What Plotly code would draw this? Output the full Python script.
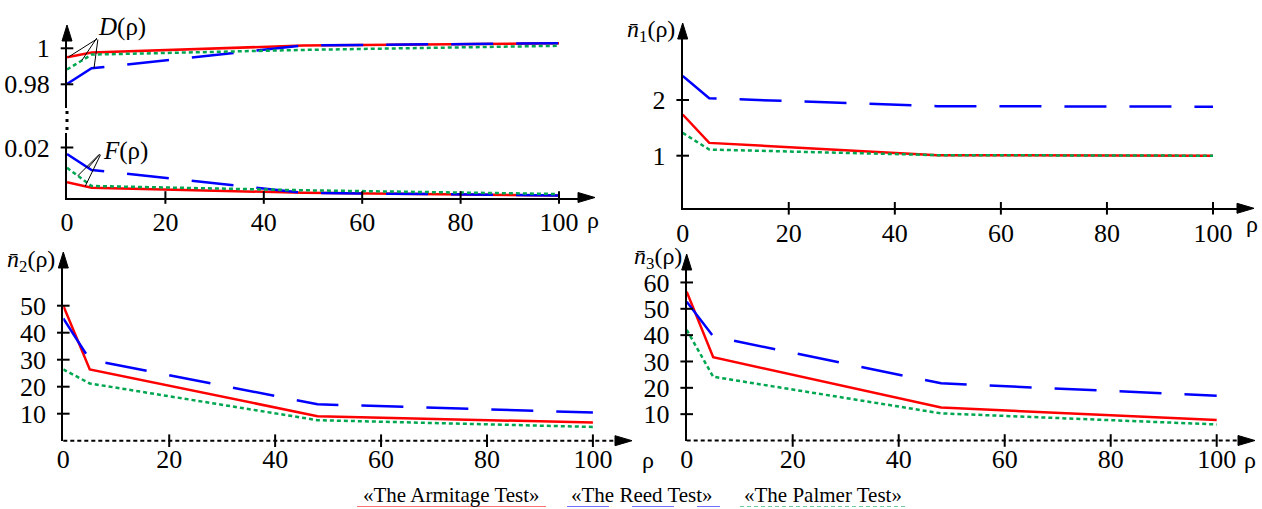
import numpy as np
import plotly.graph_objects as go

# ---------------- data ----------------
rho = [0, 5, 48, 100]

D_armitage = [0.9950, 0.9977, 1.0015, 1.0028]
D_reed = [0.9802, 0.9889, 1.0016, 1.0028]
D_palmer = [0.9882, 0.9965, 0.9991, 1.0014]

F_armitage = [0.0061, 0.0039, 0.0019, 0.0008]
F_reed = [0.0174, 0.0110, 0.0019, 0.0008]
F_palmer = [0.0119, 0.0046, 0.0029, 0.0014]

n1_armitage = [1.74, 1.23, 1.01, 1.00]
n1_reed = [2.43, 2.03, 1.89, 1.88]
n1_palmer = [1.41, 1.11, 1.01, 1.00]

n2_armitage = [50.0, 26.4, 9.1, 6.7]
n2_reed = [45.3, 30.0, 13.5, 10.4]
n2_palmer = [26.4, 21.2, 7.6, 5.1]

n3_armitage = [56.5, 31.6, 12.5, 7.8]
n3_reed = [52.7, 39.5, 21.7, 17.0]
n3_palmer = [42.0, 24.2, 10.3, 6.1]

x_ticks = [0, 20, 40, 60, 80, 100]
x_tick_text = ["0", "20", "40", "60", "80", "100"]
D_ticks = [0.98, 1.0]
D_tick_text = ["0.98", "1"]
F_ticks = [0.02]
F_tick_text = ["0.02"]
n1_ticks = [1, 2]
n2_ticks = [10, 20, 30, 40, 50]
n3_ticks = [10, 20, 30, 40, 50, 60]

series_names = ["«The Armitage Test»", "«The Reed Test»", "«The Palmer Test»"]

# ---------------- styling ----------------
W, H = 1262, 509
FONT = "Liberation Serif, Times New Roman, serif"
RED, BLUE, GREEN = "#ff0000", "#0000ff", "#00a650"
STYLES = [
    dict(color=RED, width=2.5),
    dict(color=BLUE, width=2.5, dash="42px,23px"),
    dict(color=GREEN, width=2.5, dash="4px,3px"),
]
TICKFONT = dict(family=FONT, size=26, color="black")


def fx(px):
    return px / W


def fy(py):
    return 1 - py / H


fig = go.Figure()


def add_series(xa, ya, arrays):
    for vals, st in zip(arrays, STYLES):
        fig.add_trace(go.Scatter(x=rho, y=vals, mode="lines", line=st,
                                 xaxis=xa, yaxis=ya, showlegend=False,
                                 hoverinfo="skip"))


def add_ticks(xa, ya, xt, yt, xbase, ybase):
    xt = [v for v in xt if v != 0]
    if xt:
        fig.add_trace(go.Scatter(x=xt, y=[ybase] * len(xt), mode="markers",
                                 marker=dict(symbol="line-ns", size=9,
                                             line=dict(width=2, color="black")),
                                 xaxis=xa, yaxis=ya, cliponaxis=False,
                                 showlegend=False, hoverinfo="skip"))
    if yt:
        fig.add_trace(go.Scatter(x=[xbase] * len(yt), y=yt, mode="markers",
                                 marker=dict(symbol="line-ew", size=9,
                                             line=dict(width=2, color="black")),
                                 xaxis=xa, yaxis=ya, cliponaxis=False,
                                 showlegend=False, hoverinfo="skip"))


# panel geometry (pixels) -> ranges
p1_x0, p1_x1, p1_sx = 67, 578, 4.92
p1_xr = [0, (p1_x1 - p1_x0) / p1_sx]
D_top, D_bot, D_one, D_s = 41, 108, 48.3, 1800.0
D_range = [1 - (D_bot - D_one) / D_s, 1 + (D_one - D_top) / D_s]
F_top, F_bot, F_s = 133, 197.5, 2500.0
F_range = [0, (F_bot - F_top) / F_s]
n1_x0, n1_x1, n1_sx = 682.7, 1237, 5.303
n1_xr = [0, (n1_x1 - n1_x0) / n1_sx]
n1_top, n1_bot, n1_one, n1_s = 39, 208.3, 155.7, 55.7
n1_range = [1 - (n1_bot - n1_one) / n1_s, 1 + (n1_one - n1_top) / n1_s]
n2_x0, n2_x1, n2_sx = 63.3, 615, 5.296
n2_xr = [0, (n2_x1 - n2_x0) / n2_sx]
n2_top, n2_bot, n2_s = 268, 440.7, 2.7
n2_range = [0, (n2_bot - n2_top) / n2_s]
n3_x0, n3_x1, n3_sx = 686.7, 1238, 5.3
n3_xr = [0, (n3_x1 - n3_x0) / n3_sx]
n3_top, n3_bot, n3_s = 270, 440.5, 2.634
n3_range = [0, (n3_bot - n3_top) / n3_s]

add_series("x", "y", [F_armitage, F_reed, F_palmer])
add_series("x2", "y2", [D_armitage, D_reed, D_palmer])
add_series("x3", "y3", [n1_armitage, n1_reed, n1_palmer])
add_series("x4", "y4", [n2_armitage, n2_reed, n2_palmer])
add_series("x5", "y5", [n3_armitage, n3_reed, n3_palmer])

add_ticks("x", "y", x_ticks, F_ticks, 0, F_range[0])
add_ticks("x2", "y2", [], D_ticks, 0, D_range[0])
add_ticks("x3", "y3", x_ticks, n1_ticks, 0, n1_range[0])
add_ticks("x4", "y4", x_ticks, n2_ticks, 0, n2_range[0])
add_ticks("x5", "y5", x_ticks, n3_ticks, 0, n3_range[0])


def xcfg(x0, x1, rng, anchor, showline=True, labels=True):
    return dict(domain=[fx(x0), fx(x1)], range=rng, anchor=anchor,
                showline=showline, linecolor="black", linewidth=2,
                showgrid=False, zeroline=False, ticks="", automargin=False,
                tickmode="array", tickvals=x_ticks if labels else [],
                ticktext=x_tick_text if labels else [],
                tickfont=TICKFONT, ticklabelstandoff=0, fixedrange=True)


def ycfg(top, bot, rng, anchor, tv, tt):
    return dict(domain=[fy(bot), fy(top)], range=rng, anchor=anchor,
                showline=True, linecolor="black", linewidth=2,
                showgrid=False, zeroline=False, ticks="", automargin=False,
                tickmode="array", tickvals=tv, ticktext=tt,
                tickfont=TICKFONT, ticklabelstandoff=10, fixedrange=True)


layout = dict(
    template="none",
    width=W, height=H, margin=dict(l=0, r=0, t=0, b=0, pad=0),
    font=dict(family=FONT, color="black"),
    paper_bgcolor="white", plot_bgcolor="rgba(0,0,0,0)", showlegend=False,
    xaxis=xcfg(p1_x0, p1_x1, p1_xr, "y"),
    yaxis=ycfg(F_top, F_bot, F_range, "x", F_ticks, F_tick_text),
    xaxis2=dict(xcfg(p1_x0, p1_x1, p1_xr, "y2", False, False), visible=False),
    yaxis2=ycfg(D_top, D_bot, D_range, "x2", D_ticks, D_tick_text),
    xaxis3=xcfg(n1_x0, n1_x1, n1_xr, "y3"),
    yaxis3=ycfg(n1_top, n1_bot, n1_range, "x3", n1_ticks, [str(v) for v in n1_ticks]),
    xaxis4=xcfg(n2_x0, n2_x1, n2_xr, "y4", showline=False),
    yaxis4=ycfg(n2_top, n2_bot, n2_range, "x4", n2_ticks, [str(v) for v in n2_ticks]),
    xaxis5=xcfg(n3_x0, n3_x1, n3_xr, "y5", showline=False),
    yaxis5=ycfg(n3_top, n3_bot, n3_range, "x5", n3_ticks, [str(v) for v in n3_ticks]),
)
fig.update_layout(**layout)

shapes = []
ARROW_UP = "M -5,0 L 0,16 L 5,0 Z"
ARROW_RIGHT = "M 0,-5 L 17,0 L 0,5 Z"


def arrow(xr, yr, xa, ya, path):
    shapes.append(dict(type="path", xref=xr, yref=yr, xsizemode="pixel",
                       ysizemode="pixel", xanchor=xa, yanchor=ya, path=path,
                       fillcolor="black", line=dict(color="black", width=1),
                       layer="above"))


arrow("x2 domain", "y2 domain", 0, 1, ARROW_UP)
arrow("x3 domain", "y3 domain", 0, 1, ARROW_UP)
arrow("x4 domain", "y4 domain", 0, 1, ARROW_UP)
arrow("x5 domain", "y5 domain", 0, 1, ARROW_UP)
arrow("x domain", "y domain", 1, 0, ARROW_RIGHT)
arrow("x3 domain", "y3 domain", 1, 0, ARROW_RIGHT)
arrow("x4 domain", "y4 domain", 1, 0, ARROW_RIGHT)
arrow("x5 domain", "y5 domain", 1, 0, ARROW_RIGHT)

for k in ("4", "5"):
    shapes.append(dict(type="line", xref=f"x{k} domain", yref=f"y{k} domain",
                       x0=0, x1=1, y0=0, y1=0,
                       line=dict(color="black", width=2, dash="4px,3px"),
                       layer="above"))

shapes.append(dict(type="line", xref="x domain", yref="paper", x0=0, x1=0,
                   y0=fy(111), y1=fy(131),
                   line=dict(color="black", width=3, dash="3px,5px")))

leg_spans = [(357, 546), (567, 720), (740, 905)]
for (a, b), st in zip(leg_spans, STYLES):
    shapes.append(dict(type="line", xref="paper", yref="paper",
                       x0=fx(a), x1=fx(b), y0=fy(506.5), y1=fy(506.5),
                       line=dict(color=st["color"], width=1.2,
                                 dash=st.get("dash", "solid")),
                       opacity=0.55))
fig.update_layout(shapes=shapes)

ann = []


def text(px, py, s, size=24):
    ann.append(dict(x=fx(px), y=fy(py), xref="paper", yref="paper", text=s,
                    showarrow=False, xanchor="center", yanchor="middle",
                    font=dict(family=FONT, size=size, color="black")))


text(122, 27, "<i>D</i>(ρ)", 25)
text(125, 151, "<i>F</i>(ρ)", 25)
text(651, 31, "<i>n\u0304</i><sub>1</sub>(ρ)", 24)
text(31, 261, "<i>n\u0304</i><sub>2</sub>(ρ)", 24)
text(658, 258, "<i>n\u0304</i><sub>3</sub>(ρ)", 24)
for (px, py) in [(593, 220), (1252, 224), (648, 460), (1250, 460)]:
    text(px, py, "ρ", 24)

for name, cx in zip(series_names, [451, 641.5, 822.5]):
    text(cx, 495, name, 21)


def leader(xa, ya, r, arr, ax, ay):
    ann.append(dict(x=r, y=float(np.interp(r, rho, arr)), xref=xa, yref=ya,
                    text="", showarrow=True, arrowhead=0, arrowwidth=1,
                    arrowcolor="black", ax=ax, ay=ay, standoff=0))


leader("x2", "y2", 0.3, D_armitage, 30, -19)
leader("x2", "y2", 3.0, D_palmer, 16, -24)
leader("x2", "y2", 5.5, D_reed, 4, -30)
leader("x", "y", 4.3, F_reed, 13, -15)
leader("x", "y", 2.2, F_palmer, 23, -23)
leader("x", "y", 3.7, F_armitage, 16, -33)

fig.update_layout(annotations=ann)
fig.write_html("out.html", config={"displayModeBar": False},
               post_script="document.body.style.margin='0px';")
